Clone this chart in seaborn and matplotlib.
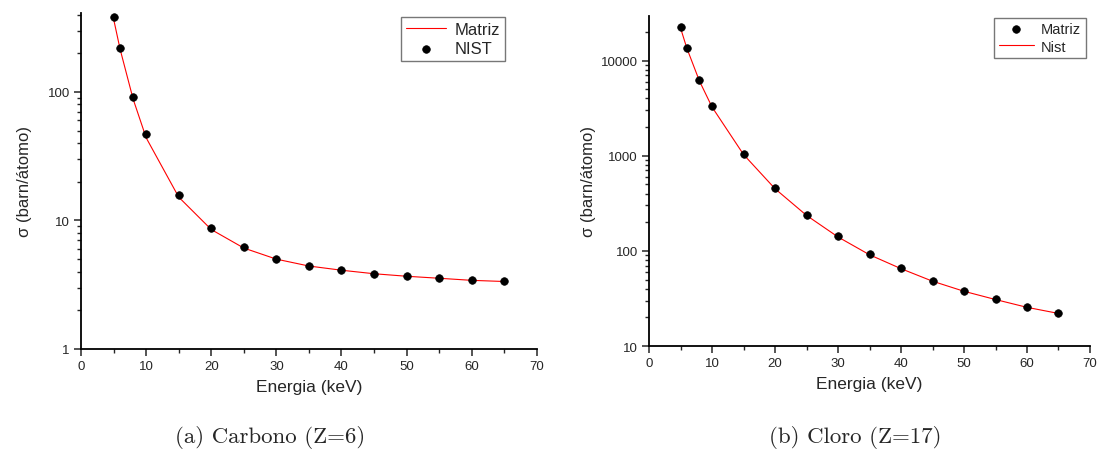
import matplotlib
matplotlib.use("Agg")
import matplotlib.pyplot as plt
import seaborn as sns
import pandas as pd
import numpy as np
from matplotlib.ticker import LogLocator, NullFormatter, MultipleLocator

energy = [5, 6, 8, 10, 15, 20, 25, 30, 35, 40, 45, 50, 55, 60, 65]

# Carbono (Z=6)
c_matriz = [370, 215, 88, 44, 15.2, 8.5, 6.1, 5.0, 4.42, 4.1, 3.85, 3.68, 3.55, 3.42, 3.35]
c_nist = [384, 220, 91, 47, 15.8, 8.74, 6.22, 5.01, 4.43, 4.12, 3.83, 3.70, 3.57, 3.44, 3.38]

# Cloro (Z=17)
cl_matriz = [22800, 13700, 6210, 3330, 1050, 457, 240, 142, 92, 65.8, 48.3, 37.9, 31.0, 25.7, 22.1]
cl_nist = [22000, 13500, 6100, 3250, 1030, 450, 236, 140, 91, 65.0, 48.0, 37.6, 30.8, 25.5, 22.0]

sns.set_style("ticks")
plt.rcParams['font.family'] = ['Liberation Sans', 'DejaVu Sans']

fig = plt.figure(figsize=(11.01, 4.56), dpi=100)
ax1 = fig.add_axes([0.0736, 0.2325, 0.414, 0.737])
ax2 = fig.add_axes([0.5895, 0.239, 0.4005, 0.724])

df_c = pd.DataFrame({"E": energy, "Matriz": c_matriz, "NIST": c_nist})
df_cl = pd.DataFrame({"E": energy, "Matriz": cl_matriz, "Nist": cl_nist})

# Left panel
sns.lineplot(data=df_c, x="E", y="Matriz", ax=ax1, color="#ff0000", linewidth=0.8, label="Matriz")
sns.scatterplot(data=df_c, x="E", y="NIST", ax=ax1, color="black", s=30, edgecolor="black",
                linewidth=0.5, label="NIST", zorder=3)
ax1.set_yscale("log")
ax1.set_ylim(1, 412)
ax1.set_xlim(0, 70)

# Right panel
sns.scatterplot(data=df_cl, x="E", y="Matriz", ax=ax2, color="black", s=30, edgecolor="black",
                linewidth=0.5, label="Matriz", zorder=3)
sns.lineplot(data=df_cl, x="E", y="Nist", ax=ax2, color="#ff0000", linewidth=0.8, label="Nist")
ax2.set_yscale("log")
ax2.set_ylim(10, 29500)
ax2.set_xlim(0, 70)

for ax, lp in ((ax1, 11.5), (ax2, 3.5)):
    for s in ("top", "right"):
        ax.spines[s].set_visible(False)
    for s in ("left", "bottom"):
        ax.spines[s].set_linewidth(1.3)
        ax.spines[s].set_color("black")
    ax.xaxis.set_major_locator(MultipleLocator(10))
    ax.xaxis.set_minor_locator(MultipleLocator(5))
    ax.yaxis.set_major_locator(LogLocator(base=10))
    ax.yaxis.set_minor_locator(LogLocator(base=10, subs=np.arange(2, 10)))
    ax.yaxis.set_minor_formatter(NullFormatter())
    ax.yaxis.set_major_formatter(matplotlib.ticker.FuncFormatter(lambda v, p: f"{v:g}"))
    ax.tick_params(axis="both", which="major", direction="out", length=5, width=1.1,
                   labelsize=9.5, pad=3)
    ax.tick_params(axis="both", which="minor", direction="out", length=2.6, width=1.0)
    ax.set_xlabel("Energia (keV)", fontsize=12.5, labelpad=5)
    ax.set_ylabel("σ (barn/átomo)", fontsize=12, labelpad=lp)

leg1 = ax1.legend(loc="upper right", bbox_to_anchor=(0.93, 0.988), fontsize=12, frameon=True,
                  fancybox=False, edgecolor="#555555", handlelength=2.4, borderpad=0.3,
                  labelspacing=0.25, handletextpad=0.5, borderaxespad=0)
leg1.get_frame().set_linewidth(1.0)
leg2 = ax2.legend(loc="upper right", bbox_to_anchor=(0.99, 0.995), fontsize=10.5, frameon=True,
                  fancybox=False, edgecolor="#555555", handlelength=2.4, borderpad=0.3,
                  labelspacing=0.25, handletextpad=0.5, borderaxespad=0)
leg2.get_frame().set_linewidth(1.0)

fig.text(0.245, 0.04, "(a) Carbono (Z=6)", fontsize=16.5, family=["cmr10", "DejaVu Serif"],
         ha="center", va="center")
fig.text(0.777, 0.04, "(b) Cloro (Z=17)", fontsize=16.5, family=["cmr10", "DejaVu Serif"],
         ha="center", va="center")

fig.savefig("out.png", dpi=100)
